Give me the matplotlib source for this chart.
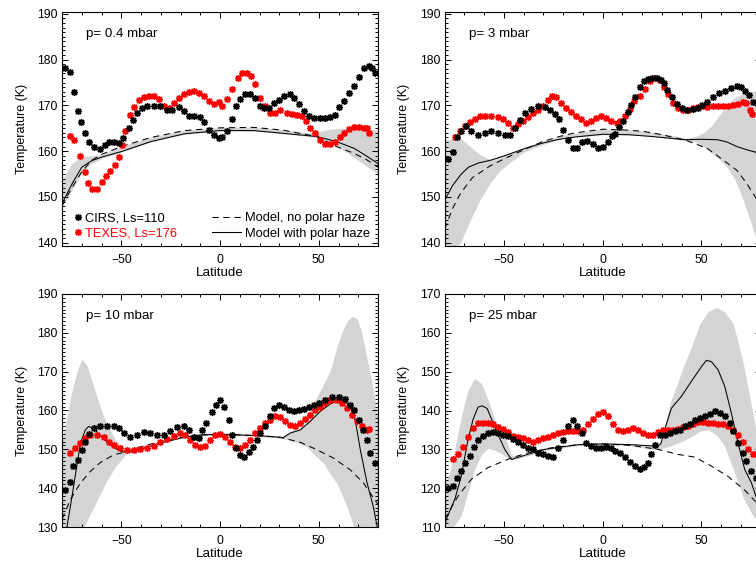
import matplotlib
matplotlib.use("Agg")
import matplotlib.pyplot as plt
from matplotlib.ticker import MultipleLocator

plt.rcParams["font.family"] = ["Liberation Sans", "DejaVu Sans"]

# ---- p = 0.4 mbar -------------------------------------------------------
CIRS_04_LAT = [-78.3, -76.1, -74.1, -72.1, -70.2, -68.2, -66.5, -64.0, -60.6, -58.1,
               -56.4, -53.8, -51.3, -49.1, -46.2, -44.0, -42.0, -39.5, -37.0, -33.6,
               -30.2, -26.8, -24.3, -20.9, -18.4, -15.9, -13.3, -10.0, -7.9, -5.7,
               -3.2, -0.7, 1.0, 3.5, 6.1, 8.3, 10.3, 12.8, 15.4, 17.9,
               20.1, 22.1, 24.6, 27.2, 29.7, 32.2, 35.6, 37.3, 39.8, 42.4,
               44.9, 47.4, 50.8, 53.3, 55.9, 58.4, 60.1, 62.6, 65.1, 67.7,
               70.2, 72.7, 75.3, 77.0, 78.6]
CIRS_04_T = [178.2, 177.3, 172.9, 168.7, 166.3, 164.0, 162.1, 161.0, 160.4, 161.3,
             162.1, 162.1, 161.8, 162.8, 165.0, 166.8, 168.3, 169.4, 169.9, 169.8,
             169.9, 169.0, 169.0, 169.6, 168.7, 167.7, 167.6, 167.4, 166.3, 164.6,
             163.5, 162.8, 163.2, 164.3, 167.0, 169.8, 171.3, 172.4, 172.4, 171.6,
             169.9, 169.4, 169.4, 170.5, 171.1, 172.0, 172.4, 171.6, 170.2, 168.7,
             167.6, 167.2, 167.2, 167.2, 167.4, 167.9, 169.6, 171.0, 172.7, 174.3,
             176.3, 178.2, 178.6, 178.2, 177.1]
TEXES_04_LAT = [-75.8, -73.8, -71.1, -68.2, -67.0, -64.8, -62.3, -59.7, -57.6, -55.5,
                -53.3, -51.3, -49.6, -47.9, -45.7, -43.7, -41.2, -38.7, -36.1, -33.6,
                -31.1, -28.5, -26.0, -23.5, -20.9, -18.4, -15.9, -13.3, -10.8, -8.3,
                -5.7, -3.2, -0.7, 1.0, 3.5, 6.1, 8.9, 11.1, 13.7, 15.7,
                17.9, 20.4, 23.0, 25.5, 28.0, 30.5, 33.9, 36.5, 39.0, 41.5,
                43.7, 45.7, 48.3, 50.8, 53.3, 55.9, 58.4, 60.6, 62.6, 65.1,
                67.7, 70.2, 72.7, 74.4, 75.3]
TEXES_04_T = [163.3, 162.4, 158.9, 155.4, 153.0, 151.8, 151.8, 153.3, 154.5, 155.7,
              156.9, 158.8, 161.3, 164.5, 168.0, 169.6, 171.1, 171.8, 172.1, 172.0,
              171.3, 169.9, 169.4, 170.5, 171.6, 172.4, 172.9, 173.1, 172.7, 172.0,
              170.9, 170.4, 170.7, 169.9, 171.4, 173.5, 176.0, 177.1, 177.0, 176.4,
              174.6, 171.6, 169.8, 168.3, 168.3, 169.0, 168.3, 168.2, 167.9, 167.6,
              166.5, 165.0, 163.9, 162.4, 161.5, 161.5, 162.1, 163.0, 163.9, 164.8,
              165.2, 165.2, 165.0, 165.0, 164.0]
MODEL_04_LAT = [-80, -75, -70, -65, -60, -50, -35, -18, 0, 17, 32, 49, 59, 68, 74, 80]
NOHAZE_04_T = [148.1, 152.0, 155.5, 158.0, 159.3, 161.0, 163.0, 164.5, 165.1, 165.2,
               164.6, 163.2, 161.0, 159.5, 158.2, 156.5]
HAZE_04_T = [148.5, 152.8, 156.5, 157.9, 158.7, 159.9, 162.1, 163.8, 164.5, 164.5,
             163.9, 163.2, 162.1, 160.6, 159.0, 157.3]
BAND_04_LAT = [-80, -75, -70, -65, -60, -50, -35, -18, 0, 17, 32, 45, 50, 55, 60, 65, 70, 75, 80]
BAND_04_LO = [147.8, 151.5, 155.3, 157.3, 158.4, 159.8, 162.0, 163.7, 164.4, 164.4,
              163.8, 163.2, 162.8, 162.0, 160.8, 159.5, 158.0, 156.5, 155.0]
BAND_04_HI = [153.8, 157.3, 158.8, 159.0, 159.3, 161.1, 163.1, 164.6, 165.2, 165.3,
              164.7, 164.0, 164.3, 164.7, 165.0, 165.0, 165.0, 164.8, 164.6]

# ---- p = 3 mbar ---------------------------------------------------------
CIRS_3_LAT = [-78.3, -75.8, -73.8, -71.6, -69.0, -66.5, -63.1, -59.7, -56.4, -53.0,
              -49.6, -47.1, -44.6, -42.0, -39.5, -36.1, -32.7, -29.4, -26.8, -24.2,
              -22.0, -20.0, -17.6, -15.0, -12.8, -10.5, -7.8, -5.0, -2.4, 0.3,
              2.5, 4.8, 6.1, 8.1, 10.4, 12.8, 14.5, 16.4, 18.9, 21.0,
              23.0, 25.2, 27.4, 29.5, 31.0, 32.4, 34.9, 37.5, 40.0, 42.5,
              45.5, 48.0, 50.5, 53.0, 56.0, 59.0, 62.0, 65.0, 68.0, 70.0,
              72.0, 74.0, 76.3, 78.5]
CIRS_3_T = [158.2, 159.9, 163.0, 164.5, 165.4, 164.3, 163.5, 163.9, 164.3, 164.0,
            163.5, 163.5, 165.0, 166.8, 168.3, 169.2, 169.8, 169.6, 169.0, 168.2,
            167.0, 164.6, 162.4, 160.6, 160.6, 162.0, 162.3, 161.5, 160.7, 161.0,
            161.9, 163.3, 163.8, 165.2, 166.5, 168.5, 170.0, 171.8, 174.0, 175.3,
            175.8, 175.9, 175.9, 175.6, 174.8, 173.3, 171.9, 170.2, 169.4, 169.0,
            169.2, 169.5, 170.0, 170.8, 171.9, 172.8, 173.2, 173.7, 174.3, 174.0,
            173.2, 172.2, 170.8, 170.3]
TEXES_3_LAT = [-74.6, -72.4, -69.9, -67.3, -64.8, -62.3, -59.7, -56.4, -53.0, -50.5,
               -47.9, -45.4, -42.9, -40.3, -37.8, -35.3, -32.7, -30.2, -27.7, -25.7,
               -23.5, -20.9, -18.4, -15.9, -13.3, -10.8, -8.3, -5.7, -3.2, -0.7,
               1.9, 4.4, 7.0, 8.6, 11.1, 13.7, 15.9, 18.7, 21.3, 23.8,
               26.3, 28.9, 31.1, 33.1, 35.6, 38.1, 40.7, 43.2, 45.7, 48.0,
               50.6, 53.0, 55.7, 58.2, 60.8, 63.3, 65.9, 68.4, 71.0, 72.7,
               74.5, 75.5]
TEXES_3_T = [163.2, 164.3, 165.4, 166.3, 167.0, 167.6, 167.7, 167.6, 167.4, 167.0,
             166.1, 165.0, 166.0, 166.5, 167.4, 168.3, 169.0, 169.8, 171.1, 172.0,
             171.8, 170.5, 169.4, 168.5, 167.7, 167.0, 166.1, 166.5, 167.2, 167.6,
             167.2, 166.5, 166.1, 166.5, 167.6, 169.2, 170.9, 172.0, 173.6, 175.3,
             175.9, 175.5, 174.0, 172.4, 170.5, 169.4, 169.0, 169.0, 169.4, 169.6,
             169.8, 169.7, 169.8, 169.9, 169.9, 169.9, 170.0, 170.3, 170.8, 170.6,
             169.0, 168.2]
NOHAZE_3_LAT = [-80, -76, -72, -66, -57, -49, -40, -31, -22, -14, 0, 13, 21, 30, 42,
                53, 59, 68, 73, 78, 80]
NOHAZE_3_T = [143.0, 147.5, 150.8, 154.2, 156.8, 158.5, 160.3, 162.0, 163.2, 164.0,
              164.8, 164.6, 164.3, 163.6, 162.4, 160.6, 158.7, 155.8, 152.9, 149.5, 148.0]
HAZE_3_LAT = [-80, -76, -72, -68, -63, -57, -49, -40, -31, -22, -14, 0, 13, 25, 42,
              50, 58, 63, 68, 73, 78, 80]
HAZE_3_T = [149.3, 152.5, 154.8, 156.5, 157.4, 158.0, 159.1, 160.5, 161.7, 162.6,
            163.1, 163.7, 163.6, 163.2, 162.5, 162.6, 162.5, 162.0, 161.0, 160.3, 159.7, 159.5]
BAND_3_LAT = [-80, -76, -72, -67, -62, -57, -52, -47, -40, -30, -20, 0, 20, 35, 42,
              47, 51, 55, 59, 63, 67, 71, 75, 78, 80]
BAND_3_LO = [136.0, 138.0, 140.0, 145.0, 149.5, 153.0, 155.8, 157.5, 159.8, 161.5,
             162.8, 163.6, 163.5, 162.7, 162.3, 162.0, 161.0, 159.6, 158.2, 156.5,
             153.8, 149.5, 144.5, 140.5, 138.0]
BAND_3_HI = [162.5, 162.7, 162.8, 161.0, 159.2, 158.2, 158.8, 159.5, 160.8, 162.3,
             163.5, 164.9, 164.5, 163.5, 162.8, 163.2, 164.0, 165.5, 167.8, 170.0,
             171.8, 172.5, 173.0, 173.2, 173.3]

# ---- p = 10 mbar --------------------------------------------------------
CIRS_10_LAT = [-78.3, -76.1, -74.4, -72.1, -69.9, -68.2, -66.5, -64.0, -60.6, -57.2,
               -53.8, -51.3, -48.8, -45.4, -42.0, -38.6, -35.3, -31.9, -28.5, -25.1,
               -21.8, -18.4, -15.9, -13.3, -10.8, -9.1, -6.9, -4.0, -1.9, 0.2,
               2.2, 4.4, 6.1, 8.3, 10.3, 12.3, 14.5, 16.7, 18.7, 20.4,
               23.0, 25.1, 27.2, 29.7, 32.2, 34.8, 37.3, 39.8, 42.4, 44.9,
               47.4, 50.0, 53.3, 56.7, 60.1, 63.5, 66.0, 67.7, 70.2, 72.4,
               74.4, 76.1, 78.6]
CIRS_10_T = [139.6, 141.7, 145.6, 147.3, 149.9, 151.8, 154.0, 155.5, 155.9, 155.9,
             156.1, 155.5, 154.2, 153.3, 153.7, 154.4, 154.2, 153.7, 153.7, 154.6,
             155.7, 155.9, 155.0, 153.3, 152.9, 155.0, 156.8, 159.5, 161.5, 162.6,
             161.0, 157.6, 153.7, 150.3, 148.6, 148.0, 149.2, 150.7, 152.5, 154.2,
             155.9, 158.5, 160.6, 161.5, 161.0, 160.2, 159.9, 160.0, 160.4, 160.9,
             161.5, 161.9, 162.8, 163.5, 163.5, 162.9, 161.5, 160.2, 157.6, 155.0,
             152.3, 149.0, 146.4]
TEXES_10_LAT = [-75.8, -73.2, -70.7, -68.2, -65.7, -62.3, -58.9, -56.4, -53.8, -50.5,
                -47.1, -43.7, -40.3, -37.0, -33.6, -30.2, -26.8, -23.5, -20.1, -17.6,
                -15.0, -12.5, -10.0, -7.4, -4.9, -2.4, 0.2, 2.7, 5.2, 7.8,
                10.3, 12.8, 15.4, 17.9, 20.4, 23.0, 25.5, 28.0, 30.5, 33.1,
                35.6, 38.1, 40.7, 43.2, 45.7, 48.3, 50.8, 53.3, 55.9, 59.2,
                61.8, 64.3, 66.8, 69.4, 71.9, 74.4, 75.5]
TEXES_10_T = [149.0, 150.3, 151.6, 152.9, 153.7, 153.7, 153.1, 152.0, 151.0, 150.3,
              149.9, 149.9, 150.1, 150.3, 150.9, 151.8, 152.6, 153.5, 154.2, 153.7,
              152.5, 151.2, 150.6, 150.9, 152.5, 153.7, 153.9, 153.1, 151.8, 150.6,
              150.3, 151.2, 152.5, 154.2, 155.5, 156.8, 157.6, 158.5, 158.2, 157.4,
              156.3, 156.1, 156.8, 157.8, 158.9, 160.2, 161.0, 161.9, 162.6, 162.6,
              161.9, 160.6, 158.9, 157.2, 155.9, 155.0, 155.2]
NOHAZE_10_LAT = [-80, -75.8, -70.7, -65.7, -60.6, -53.8, -47.1, -40.3, -31.9, -21.8,
                 -10.0, 0.2, 10.3, 20.4, 30.5, 40.7, 49.1, 57.6, 66.0, 72.7, 76.1, 80]
NOHAZE_10_T = [132.0, 137.0, 141.3, 144.3, 146.6, 148.6, 149.4, 150.6, 151.8, 152.9,
               153.7, 153.9, 153.7, 153.5, 153.1, 151.8, 149.9, 147.7, 144.7, 141.3,
               138.7, 135.8]
HAZE_10_LAT = [-80, -77.5, -74.9, -72.4, -70.7, -68.2, -66.5, -64.0, -61.5, -58.0,
               -54.0, -49.6, -46.0, -40.0, -30.0, -18.4, -10.0, 0.2, 10.3, 20.4,
               30.5, 32.0, 35.6, 40.7, 45.7, 50.8, 55.9, 60.1, 63.0, 66.0,
               68.5, 71.0, 74.4, 77.5, 80]
HAZE_10_T = [123.0, 130.0, 138.0, 146.0, 151.5, 155.0, 155.9, 155.3, 154.1, 152.3,
             150.5, 149.4, 149.2, 150.1, 151.6, 153.1, 153.7, 153.9, 153.7, 153.5,
             153.1, 153.0, 154.2, 155.0, 157.2, 159.8, 161.7, 162.6, 162.5, 161.0,
             157.5, 150.0, 141.5, 135.5, 129.0]
BAND_10_LAT = [-80, -77.5, -74.9, -72.1, -69.9, -67.3, -64.8, -62.3, -59.7, -57.2,
               -53, -48, -43, -35, -25, -10, 0, 10, 20, 30,
               32, 36, 40, 44, 48, 52.5, 56, 59.2, 62, 64.3,
               66.8, 69.4, 71.5, 73.6, 77, 80]
BAND_10_LO = [118.0, 121.0, 124.0, 126.5, 129.0, 131.7, 134.2, 136.8, 139.5, 142.0,
              145.5, 148.5, 150.2, 151.2, 152.3, 153.5, 153.7, 153.5, 153.3, 152.9,
              152.8, 152.2, 151.5, 150.6, 148.5, 146.4, 143.5, 141.2, 138.0, 135.2,
              131.5, 127.5, 124.0, 121.0, 117.0, 114.0]
BAND_10_HI = [152.0, 158.4, 165.3, 170.5, 173.3, 171.5, 167.5, 163.5, 159.5, 156.5,
              152.5, 150.0, 150.7, 151.3, 152.5, 153.9, 154.1, 153.9, 153.7, 153.3,
              153.3, 154.8, 156.0, 159.0, 162.5, 166.8, 170.5, 176.4, 180.5, 183.0,
              184.2, 183.7, 180.5, 175.6, 167.0, 158.0]

# ---- p = 25 mbar --------------------------------------------------------
CIRS_25_LAT = [-78.3, -75.8, -73.6, -71.6, -69.5, -67.3, -65.1, -63.1, -60.6, -58.1,
               -55.5, -52.8, -50.5, -47.9, -45.4, -42.9, -40.3, -37.8, -35.3, -32.7,
               -30.2, -27.7, -25.1, -22.6, -20.1, -17.6, -15.0, -12.8, -10.5, -8.3,
               -5.7, -3.2, -0.7, 1.9, 4.4, 6.4, 8.6, 11.1, 13.7, 16.2,
               18.7, 20.9, 23.0, 24.6, 26.3, 28.9, 31.4, 33.9, 36.5, 39.0,
               41.5, 44.1, 46.6, 49.1, 51.6, 54.2, 56.7, 59.2, 61.8, 64.3,
               66.0, 68.5, 71.1, 72.7, 75.3, 77.5, 79.0]
CIRS_25_T = [120.1, 120.6, 122.7, 124.4, 126.5, 128.4, 130.6, 132.4, 133.5, 134.2,
             134.4, 134.2, 133.8, 133.4, 132.7, 131.8, 131.2, 130.4, 130.0, 129.1,
             128.7, 128.3, 128.1, 130.4, 132.5, 135.9, 137.6, 135.9, 134.2, 131.7,
             130.8, 130.4, 130.4, 130.6, 130.4, 129.5, 129.1, 128.1, 126.7, 125.7,
             125.0, 125.5, 126.5, 128.9, 131.0, 133.8, 133.8, 134.2, 134.7, 135.1,
             135.9, 136.4, 137.5, 138.1, 138.5, 139.2, 139.8, 139.4, 138.5, 136.8,
             134.7, 131.7, 129.0, 127.0, 124.4, 122.7, 121.0]
TEXES_25_LAT = [-75.8, -73.2, -70.7, -68.2, -65.7, -63.1, -60.6, -58.1, -55.5, -53.0,
                -50.5, -47.9, -45.4, -42.9, -40.3, -37.8, -35.3, -32.7, -30.2, -27.7,
                -25.1, -22.6, -20.1, -17.6, -15.0, -12.5, -10.0, -7.5, -4.9, -2.4,
                0.1, 2.7, 5.2, 7.8, 10.3, 12.8, 15.4, 17.9, 20.4, 23.0,
                25.5, 28.0, 30.6, 33.1, 35.6, 38.1, 40.7, 43.2, 45.7, 48.3,
                50.8, 53.3, 55.9, 58.4, 60.9, 63.5, 66.0, 68.5, 71.1, 73.6,
                76.1, 78.0]
TEXES_25_T = [127.6, 128.7, 130.6, 133.2, 135.5, 136.8, 136.8, 136.8, 136.4, 135.8,
              135.3, 134.4, 133.5, 133.2, 132.9, 132.3, 131.8, 132.5, 132.9, 133.3,
              133.8, 134.2, 134.4, 134.6, 134.6, 134.6, 135.1, 136.4, 137.8, 139.2,
              139.5, 138.5, 136.4, 134.9, 134.6, 135.1, 135.5, 135.1, 134.2, 133.8,
              133.8, 134.4, 135.1, 135.1, 135.1, 135.3, 135.8, 136.1, 136.6, 137.0,
              137.0, 136.8, 136.8, 136.6, 136.4, 135.9, 135.1, 133.8, 131.8, 130.0,
              128.9, 128.7]
NOHAZE_25_LAT = [-80, -73.2, -66.5, -58.1, -46.2, -37.8, -26.0, -12.5, 1.0, 14.5,
                 28.0, 38.1, 46.6, 55.0, 63.5, 71.9, 77.5, 80]
NOHAZE_25_T = [112.0, 118.0, 122.3, 125.3, 127.8, 129.1, 130.4, 131.2, 131.4, 131.0,
               130.0, 128.7, 128.0, 125.7, 123.0, 119.5, 116.5, 115.0]
HAZE_25_LAT = [-80, -79.2, -74.9, -71.6, -68.2, -65.7, -63.1, -61.0, -58.5, -57.2,
               -53.8, -49.6, -46.2, -41.2, -29.4, -12.5, 1.0, 14.5, 28.0, 29.5,
               31.4, 34.8, 39.8, 44.9, 50.0, 52.5, 55.0, 58.4, 61.8, 65.1,
               68.5, 71.9, 75.3, 77.5, 80]
HAZE_25_T = [110.0, 112.0, 117.1, 123.1, 132.5, 137.6, 140.9, 141.2, 140.5, 138.9,
             134.7, 130.0, 127.4, 128.2, 130.0, 131.2, 131.4, 131.2, 130.8, 131.5,
             135.1, 140.6, 143.6, 147.5, 151.3, 152.9, 152.6, 150.5, 146.2, 139.4,
             131.7, 124.8, 121.4, 118.0, 114.0]
BAND_25_LAT = [-80, -77.5, -74.9, -71.6, -68.2, -64.8, -61.4, -58.1, -54.7, -51.3,
               -48.8, -46.2, -40, -29, -12, 1, 14, 28, 30, 34,
               37.5, 40.8, 45, 49.3, 53.5, 57.7, 61.5, 66.1, 71.2, 75.4,
               77.6, 80]
BAND_25_LO = [108.0, 109.5, 110.5, 113.0, 119.0, 125.0, 128.6, 130.3, 129.8, 128.9,
              128.0, 127.3, 128.0, 129.8, 131.0, 131.2, 130.9, 129.8, 130.3, 130.8,
              131.5, 132.2, 133.3, 134.7, 135.0, 133.6, 131.0, 125.0, 117.5, 113.5,
              112.0, 109.0]
BAND_25_HI = [121.0, 124.0, 130.0, 138.5, 145.3, 148.3, 147.0, 142.8, 137.6, 134.2,
              132.5, 128.5, 128.4, 130.2, 131.4, 131.6, 131.4, 131.0, 132.5, 141.8,
              146.5, 151.2, 156.5, 162.4, 165.5, 166.6, 165.5, 162.4, 152.1, 141.0,
              135.0, 128.0]

LABELS = ["p= 0.4 mbar", "p= 3 mbar", "p= 10 mbar", "p= 25 mbar"]
YLIMS = [(139.4, 190.4), (139.4, 190.4), (130, 190), (110, 170)]

BAND_GREY = "#d4d4d4"
W, H = 756.0, 567.0
# axes rectangles in pixels: left, top, right, bottom
BOXES = [(62, 12, 378, 245.5), (444.7, 12, 760.7, 245.5),
         (62, 294, 378, 527), (444.7, 294, 760.7, 527)]


def draw_panel(fig, box, label, ylim, cirs, texes, nohaze, haze, band):
    l, t, r, b = box
    ax = fig.add_axes([l / W, 1 - b / H, (r - l) / W, (b - t) / H])
    ax.fill_between(band[0], band[1], band[2], color=BAND_GREY, lw=0, zorder=1)
    ax.plot(nohaze[0], nohaze[1], color="k", lw=0.75, dashes=(6, 4.5), zorder=2)
    ax.plot(haze[0], haze[1], color="k", lw=0.75, zorder=2)
    star = dict(ls="none", marker=(8, 2, 0), ms=5.0, mew=1.0)
    ax.plot(texes[0], texes[1], color="red", zorder=3, **star)
    ax.plot(cirs[0], cirs[1], color="black", zorder=4, **star)

    ax.set_xlim(-80, 80)
    ax.set_ylim(*ylim)
    ax.xaxis.set_major_locator(MultipleLocator(50))
    ax.xaxis.set_minor_locator(MultipleLocator(10))
    ax.yaxis.set_major_locator(MultipleLocator(10))
    ax.yaxis.set_minor_locator(MultipleLocator(1))
    ax.tick_params(which="both", direction="in", top=True, right=True, width=0.7,
                   labelsize=8.8)
    ax.tick_params(which="major", length=4.5)
    ax.tick_params(which="minor", length=2.2)
    ax.tick_params(axis="x", pad=6)
    ax.tick_params(axis="y", pad=3)
    for s in ax.spines.values():
        s.set_linewidth(0.8)
    ax.set_xlabel("Latitude", fontsize=9.6, labelpad=0.5)
    ax.set_ylabel("Temperature (K)", fontsize=9.0, labelpad=7)
    ax.text(0.077, 0.905, label, transform=ax.transAxes, fontsize=9.6, va="center")
    return ax


fig = plt.figure(figsize=(W / 100, H / 100), dpi=100)

panels = [
    ((CIRS_04_LAT, CIRS_04_T), (TEXES_04_LAT, TEXES_04_T), (MODEL_04_LAT, NOHAZE_04_T),
     (MODEL_04_LAT, HAZE_04_T), (BAND_04_LAT, BAND_04_LO, BAND_04_HI)),
    ((CIRS_3_LAT, CIRS_3_T), (TEXES_3_LAT, TEXES_3_T), (NOHAZE_3_LAT, NOHAZE_3_T),
     (HAZE_3_LAT, HAZE_3_T), (BAND_3_LAT, BAND_3_LO, BAND_3_HI)),
    ((CIRS_10_LAT, CIRS_10_T), (TEXES_10_LAT, TEXES_10_T), (NOHAZE_10_LAT, NOHAZE_10_T),
     (HAZE_10_LAT, HAZE_10_T), (BAND_10_LAT, BAND_10_LO, BAND_10_HI)),
    ((CIRS_25_LAT, CIRS_25_T), (TEXES_25_LAT, TEXES_25_T), (NOHAZE_25_LAT, NOHAZE_25_T),
     (HAZE_25_LAT, HAZE_25_T), (BAND_25_LAT, BAND_25_LO, BAND_25_HI)),
]

axes = []
for box, label, ylim, series in zip(BOXES, LABELS, YLIMS, panels):
    axes.append(draw_panel(fig, box, label, ylim, *series))

# legends in the first panel
ax0 = axes[0]
lines = ax0.get_lines()
leg1 = ax0.legend([lines[3], lines[2]], ["CIRS, Ls=110", "TEXES, Ls=176"],
                  loc="lower left", bbox_to_anchor=(0.035, 0.025), frameon=False,
                  fontsize=9.3, handlelength=0.8, handletextpad=0.15, labelspacing=0.25,
                  borderpad=0, borderaxespad=0, numpoints=1, labelcolor="linecolor")
ax0.add_artist(leg1)
ax0.legend([lines[0], lines[1]], ["Model, no polar haze", "Model with polar haze"],
           loc="lower right", bbox_to_anchor=(0.975, 0.025), frameon=False,
           fontsize=9.3, handlelength=2.3, handletextpad=0.3, labelspacing=0.25,
           borderpad=0, borderaxespad=0)

fig.savefig("out.png", dpi=100)
